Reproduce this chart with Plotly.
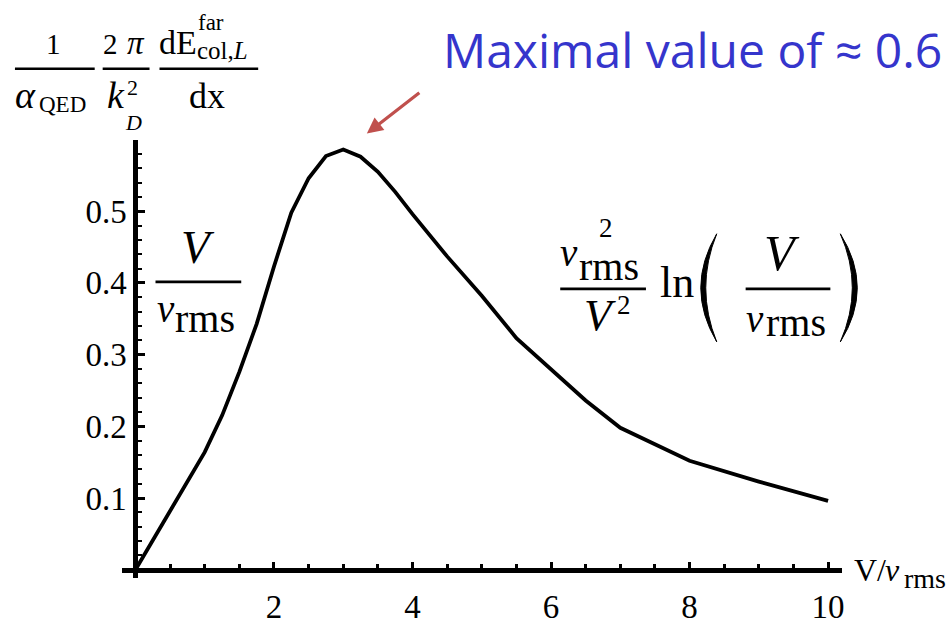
import plotly.graph_objects as go

W, H = 950, 625

# Reduced velocity V / v_rms
v_ratio = [0, 0.25, 0.5, 0.75, 1.0, 1.25, 1.5, 1.75, 2.0, 2.25, 2.5, 2.75,
           3.0, 3.25, 3.5, 3.75, 4.0, 4.5, 5.0, 5.5, 6.0, 6.5, 7.0, 8.0,
           9.0, 10.0]
# Scaled far-region longitudinal collisional energy loss per unit length
energy_loss = [0, 0.041, 0.082, 0.122, 0.164, 0.215, 0.276, 0.343, 0.423,
               0.498, 0.546, 0.577, 0.586, 0.576, 0.555, 0.527, 0.496, 0.437,
               0.382, 0.323, 0.280, 0.236, 0.198, 0.152, 0.123, 0.096]

x_tick_vals = [2, 4, 6, 8, 10]
x_tick_text = ["2", "4", "6", "8", "10"]
y_tick_vals = [0.1, 0.2, 0.3, 0.4, 0.5]
y_tick_text = ["0.1", "0.2", "0.3", "0.4", "0.5"]

peak_note = "Maximal value of \u2248 0.6"

SERIF = "Liberation Serif"


def px(x):
    return x / W


def py(y):
    return 1 - y / H


fig = go.Figure()

fig.add_trace(go.Scatter(
    x=v_ratio, y=energy_loss, mode="lines",
    line=dict(color="black", width=3.8, shape="linear"),
    hoverinfo="skip", showlegend=False, cliponaxis=False,
))

# axis geometry (pixels): origin at (135.9, 580), 69.48 px per unit in x, 730 px per unit in y
x_left_px, x_right_px = 122.0, 844.6
y_bottom_px, y_top_px = 588.0, 142.0

fig.update_layout(
    width=W, height=H,
    margin=dict(l=0, r=0, t=0, b=0),
    paper_bgcolor="white", plot_bgcolor="white",
    showlegend=False,
    xaxis=dict(
        domain=[px(x_left_px), px(x_right_px)],
        range=[-0.2, 10.2],
        anchor="free", position=py(580),
        showline=True, linecolor="black", linewidth=5,
        showgrid=False, zeroline=False,
        tickmode="array", tickvals=x_tick_vals, ticktext=x_tick_text,
        ticks="inside", ticklen=6, tickwidth=3, tickcolor="black",
        minor=dict(tickmode="linear", tick0=0, dtick=0.5, ticks="inside",
                   ticklen=4, tickwidth=3, tickcolor="black"),
        tickfont=dict(family=SERIF, size=33, color="black"),
        ticklabelstandoff=6,
    ),
    yaxis=dict(
        domain=[py(y_bottom_px), py(y_top_px)],
        range=[-0.011, 0.6],
        anchor="free", position=px(135.9),
        showline=True, linecolor="black", linewidth=5,
        showgrid=False, zeroline=False,
        tickmode="array", tickvals=y_tick_vals, ticktext=y_tick_text,
        ticks="inside", ticklen=7, tickwidth=3, tickcolor="black",
        minor=dict(tickmode="linear", tick0=0, dtick=0.02, ticks="inside",
                   ticklen=4, tickwidth=2, tickcolor="black"),
        tickfont=dict(family=SERIF, size=33, color="black"),
        ticklabelstandoff=0,
    ),
)


def label(text, x, base, size, anchor="left", italic=False,
          family=SERIF, color="black", mid=0.34):
    """Place text by its baseline (pixels); mid = baseline-to-box-centre in em."""
    if italic:
        text = "<i>" + text + "</i>"
    fig.add_annotation(
        x=px(x), y=py(base - mid * size), xref="paper", yref="paper",
        text=text, showarrow=False, xanchor=anchor, yanchor="middle",
        font=dict(family=family, size=size, color=color), borderpad=0,
    )


def bar(x0, x1, y, width=2.6):
    fig.add_shape(type="line", xref="paper", yref="paper",
                  x0=px(x0), x1=px(x1), y0=py(y), y1=py(y),
                  line=dict(color="black", width=width))


def paren(tip_x, top, bottom, outer_x, inner_x):
    mid = (top + bottom) / 2
    co = (4 * outer_x - 2 * tip_x) / 2
    ci = (4 * inner_x - 2 * tip_x) / 2
    path = (f"M {px(tip_x)},{py(top)} Q {px(co)},{py(mid)} {px(tip_x)},{py(bottom)} "
            f"Q {px(ci)},{py(mid)} {px(tip_x)},{py(top)} Z")
    fig.add_shape(type="path", xref="paper", yref="paper", path=path,
                  fillcolor="black", line=dict(color="black", width=1))


# y-axis label: (1/alpha_QED) (2 pi / k_D^2) dE^far_{col,L}/dx
label("1", 54, 55, 29, anchor="center")
bar(15, 95, 70)
label("\u03b1", 14, 110, 38, italic=True)
label("QED", 38, 114, 23)
label("2", 102, 55, 29)
label("\u03c0", 126, 55, 33, italic=True)
bar(103, 150, 70)
label("k", 106, 110, 38, italic=True)
label("2", 126, 97, 22)
label("D", 124, 132, 22, italic=True)
label("dE", 159, 55, 34)
label("far", 198, 31, 23)
label("col,<i>L</i>", 197, 60, 25)
bar(160, 259, 70)
label("dx", 208, 110, 36, anchor="center")

# low-velocity asymptote V / v_rms
label("V", 199, 267, 47, anchor="center", italic=True)
bar(156, 242, 287, 2.8)
label("v", 156, 327, 39, italic=True)
label("rms", 175, 338, 40)

# high-velocity asymptote (v_rms^2 / V^2) ln(V / v_rms)
label("v", 561, 270, 39, italic=True)
label("2", 600, 241, 27)
label("rms", 580, 285, 40)
bar(562, 648, 294, 2.8)
label("V", 585, 336, 45, italic=True)
label("2", 618, 320, 27)
label("ln", 661, 303, 44)
paren(719, 238, 348, 703, 708)
label("V", 765, 275, 50, italic=True)
bar(748, 833, 294, 2.8)
label("v", 747, 337, 39, italic=True)
label("rms", 767, 342, 40)
paren(843, 238, 348, 860, 855)

# x-axis label V/v_rms
label("V/", 856, 591, 32)
label("v", 887, 591, 32, italic=True)
label("rms", 906, 598, 28)

# peak note and arrow
label(peak_note, 443, 68, 48, family="Open Sans", color="#3535CC", mid=0.36)
fig.add_annotation(
    x=px(368), y=py(136), xref="paper", yref="paper",
    ax=54, ay=-42, axref="pixel", ayref="pixel",
    text="", showarrow=True, arrowhead=2, arrowsize=1, arrowwidth=3.2,
    arrowcolor="#C0504D",
)

fig.write_html("out.html")
